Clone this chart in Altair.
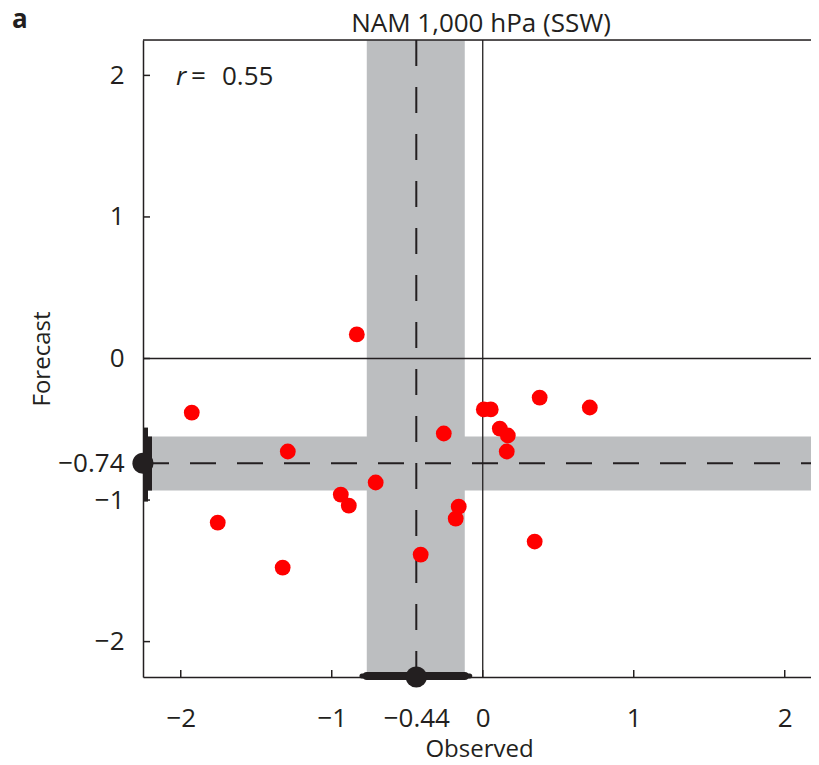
import altair as alt
import pandas as pd

# ---- data ----
observed = [-0.834, -1.927, -1.291, -1.755, -1.325, -0.940, -0.887, -0.709, -0.411, -0.258,
            -0.159, -0.179, 0.007, 0.053, 0.113, 0.166, 0.159, 0.377, 0.709, 0.344]
forecast = [0.170, -0.382, -0.657, -1.159, -1.477, -0.961, -1.039, -0.876, -1.385, -0.530,
            -1.046, -1.131, -0.360, -0.360, -0.495, -0.544, -0.657, -0.276, -0.346, -1.293]
x_tick_values = [-2, -1, -0.44, 0, 1, 2]
y_tick_values = [-2, -1, -0.74, 0, 1, 2]
minor_ticks = [-2, -1, 0, 1, 2]
obs_mean = [-0.44]
fc_mean = [-0.74]
obs_band = [-0.768, -0.119]
fc_band = [-0.551, -0.933]
obs_whisker = [-0.800, -0.086]
fc_whisker = [-0.488, -1.011]
zero = [0]
title_text = ["NAM 1,000 hPa (SSW)"]
panel_label = ["a"]
r_parts = ["r", "=", "0.55"]

# ---- styling ----
W, H = 668, 637
INK = "#231f20"
GREY = "#bcbec0"
FONT = "Open Sans"
xs = alt.Scale(domain=[-2.25, 2.174], nice=False, zero=False)
ys = alt.Scale(domain=[-2.25, 2.25], nice=False, zero=False)

x_axis = alt.Axis(values=x_tick_values, format=".2~f", ticks=False, tickSize=0, grid=False,
                  domain=True, domainColor=INK, domainWidth=1.5,
                  labelPadding=28, labelFontSize=26, labelFont=FONT, labelColor=INK,
                  labelOverlap=False, labelFlush=False,
                  title="Observed", titleFont=FONT, titleFontSize=24, titleFontWeight="normal",
                  titleColor=INK, titleX=W / 2 + 2, titleY=79, titleBaseline="alphabetic",
                  titleAlign="center")
y_axis = alt.Axis(values=y_tick_values, format=".2~f", ticks=False, tickSize=0, grid=False,
                  domain=True, domainColor=INK, domainWidth=1.5,
                  labelPadding=19, labelFontSize=26, labelFont=FONT, labelColor=INK,
                  labelOverlap=False, labelFlush=False,
                  title="Forecast", titleFont=FONT, titleFontSize=24, titleFontWeight="normal",
                  titleColor=INK, titleX=-94, titleY=H / 2, titleAngle=-90,
                  titleBaseline="alphabetic", titleAlign="center")


def X(field):
    return alt.X(field, scale=xs, axis=x_axis)


def Y(field):
    return alt.Y(field, scale=ys, axis=y_axis)


one = pd.DataFrame({"d": [0]})

vband = alt.Chart(pd.DataFrame({"a": [obs_band[0]], "b": [obs_band[1]]})).mark_rect(color=GREY).encode(
    x=X("a:Q"), x2="b:Q", y=alt.value(0), y2=alt.value(H))
hband = alt.Chart(pd.DataFrame({"a": [fc_band[0]], "b": [fc_band[1]]})).mark_rect(color=GREY).encode(
    y=Y("a:Q"), y2="b:Q", x=alt.value(0), x2=alt.value(W))

zero_v = alt.Chart(pd.DataFrame({"v": zero})).mark_rule(color=INK, strokeWidth=1.3).encode(
    x=X("v:Q"), y=alt.value(0), y2=alt.value(H))
zero_h = alt.Chart(pd.DataFrame({"v": zero})).mark_rule(color=INK, strokeWidth=1.3).encode(
    y=Y("v:Q"), x=alt.value(0), x2=alt.value(W))

dash_v = alt.Chart(pd.DataFrame({"v": obs_mean})).mark_rule(color=INK, strokeWidth=2, strokeDash=[26, 21]).encode(
    x=X("v:Q"), y=alt.value(0), y2=alt.value(H))
dash_h = alt.Chart(pd.DataFrame({"v": fc_mean})).mark_rule(color=INK, strokeWidth=2, strokeDash=[26, 21]).encode(
    y=Y("v:Q"), x=alt.value(0), x2=alt.value(W))

top_spine = alt.Chart(one).mark_rule(color=INK, strokeWidth=1.5).encode(
    x=alt.value(0), x2=alt.value(W), y=alt.value(0))

xt = alt.Chart(pd.DataFrame({"t": minor_ticks})).mark_rule(color=INK, strokeWidth=1.5).encode(
    x=X("t:Q"), y=alt.value(H), y2=alt.value(H - 7))
yt = alt.Chart(pd.DataFrame({"t": minor_ticks})).mark_rule(color=INK, strokeWidth=1.5).encode(
    y=Y("t:Q"), x=alt.value(0), x2=alt.value(7))

points = alt.Chart(pd.DataFrame({"Observed": observed, "Forecast": forecast})).mark_circle(
    color="#ff0000", opacity=1, size=250).encode(
    x=X("Observed:Q"), y=Y("Forecast:Q"))

obs_thin = alt.Chart(pd.DataFrame({"a": [obs_whisker[0]], "b": [obs_whisker[1]]})).mark_rule(
    color=INK, strokeWidth=5, strokeCap="round").encode(
    x=X("a:Q"), x2="b:Q", y=alt.value(H - 1))
obs_thick = alt.Chart(pd.DataFrame({"a": [obs_band[0]], "b": [obs_band[1]]})).mark_rule(
    color=INK, strokeWidth=8, strokeCap="round").encode(
    x=X("a:Q"), x2="b:Q", y=alt.value(H - 1))
fc_thin = alt.Chart(pd.DataFrame({"a": [fc_whisker[0]], "b": [fc_whisker[1]]})).mark_rule(
    color=INK, strokeWidth=5).encode(
    y=Y("a:Q"), y2="b:Q", x=alt.value(2.5))
fc_thick = alt.Chart(pd.DataFrame({"a": [fc_band[0]], "b": [fc_band[1]]})).mark_rule(
    color=INK, strokeWidth=9).encode(
    y=Y("a:Q"), y2="b:Q", x=alt.value(4.5))

obs_dot = alt.Chart(pd.DataFrame({"v": obs_mean})).mark_circle(color=INK, opacity=1, size=450).encode(
    x=X("v:Q"), y=alt.value(H))
fc_dot = alt.Chart(pd.DataFrame({"v": fc_mean})).mark_circle(color=INK, opacity=1, size=450).encode(
    y=Y("v:Q"), x=alt.value(0))

title = alt.Chart(pd.DataFrame({"t": title_text})).mark_text(
    font=FONT, fontSize=26, color=INK, align="center", baseline="alphabetic").encode(
    text="t:N", x=alt.value(338), y=alt.value(-8))
plabel = alt.Chart(pd.DataFrame({"t": panel_label})).mark_text(
    font=FONT, fontSize=26, fontWeight="bold", color=INK, align="left", baseline="alphabetic").encode(
    text="t:N", x=alt.value(-131), y=alt.value(-12))

r_sym = alt.Chart(pd.DataFrame({"t": [r_parts[0]]})).mark_text(
    font=FONT, fontSize=26, fontStyle="italic", color=INK, align="left", baseline="middle").encode(
    text="t:N", x=alt.value(33), y=alt.value(37))
r_eq = alt.Chart(pd.DataFrame({"t": [r_parts[1]]})).mark_text(
    font=FONT, fontSize=26, color=INK, align="left", baseline="middle").encode(
    text="t:N", x=alt.value(48), y=alt.value(37))
r_val = alt.Chart(pd.DataFrame({"t": [r_parts[2]]})).mark_text(
    font=FONT, fontSize=26, color=INK, align="left", baseline="middle").encode(
    text="t:N", x=alt.value(79), y=alt.value(37))

chart = alt.layer(
    vband, hband, zero_v, zero_h, dash_v, dash_h, top_spine, xt, yt, points,
    obs_thin, obs_thick, fc_thin, fc_thick, obs_dot, fc_dot, title, plabel, r_sym, r_eq, r_val
).properties(
    width=W, height=H,
    autosize=alt.AutoSizeParams(type="none"),
    padding={"left": 135, "top": 32, "right": 0, "bottom": 80},
).configure_view(stroke=None).configure(background="white")

chart.save("out.html", embed_options={"renderer": "svg", "actions": False})
